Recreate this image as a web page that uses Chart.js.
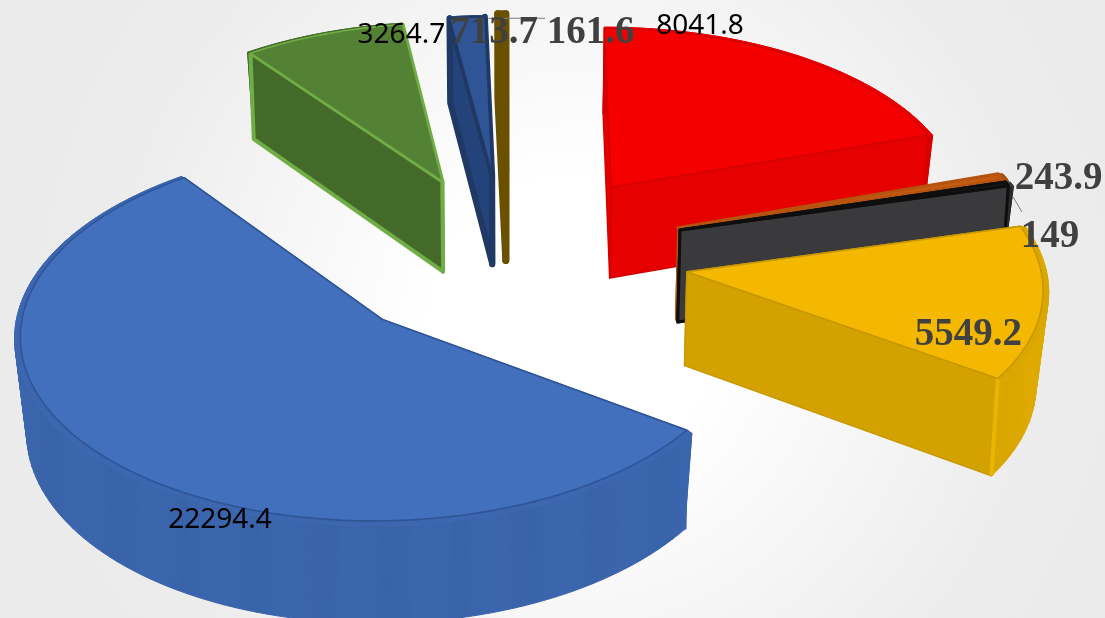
<!DOCTYPE html>
<html>
<head>
<meta charset="utf-8">
<style>
	html, body { margin: 0; padding: 0; }
	body { width: 1105px; height: 618px; overflow: hidden; background: radial-gradient(circle at 52% 52%, #ffffff 0%, #ffffff 22%, #ececec 72%, #eaeaea 100%); }
	#chart-box { width: 1105px; height: 618px; position: relative; }
</style>
<script src="https://cdn.jsdelivr.net/npm/chart.js@4/dist/chart.umd.min.js"></script>
</head>
<body>
<div id="chart-box"><canvas id="pie-chart"></canvas></div>
<script>
const sliceValues = [8041.8, 243.9, 149, 5549.2, 22294.4, 3264.7, 713.7, 161.6];
const sliceLabels = ['8041.8', '243.9', '149', '5549.2', '22294.4', '3264.7', '713.7', '161.6'];
const explodePx = [96, 104, 106, 110, 98, 92, 94, 98];
const sideNudge = [10, 0, -3, -10, 0, -3, 0, 3];

const topColors = ['#f50000', '#c55a11', '#1c1c1c', '#f4b800', '#4270bd', '#548235', '#2f5597', '#7f6000'];
const wallColors = ['#e60000', '#a84c0e', '#3a3a3c', '#d4a200', '#3a64ab', '#446a29', '#23437a', '#6b5000'];
const arcWallColors = ['#d80000', '#a84c0e', '#2a2a2a', '#dca800', '#3a64ab', '#446a29', '#23437a', '#6b5000'];
const edgeColors = ['#d40000', '#b5530f', '#0e0e0e', '#c89800', '#2f5597', '#70ad47', '#1f3864', '#6b5000'];
const wallEdgeWidths = [1.5, 1.5, 3, 1.5, 1.5, 4, 6, 7];
const topEdgeWidths = [1.6, 3, 3, 1.6, 1.6, 1.6, 1.6, 7];
const cornerGlow = [0, 0, 0, 0.07, 0.015, 0, 0, 0];

const sansFont = '28px "Noto Sans", sans-serif', serifFont = 'bold 39px "Liberation Serif", serif';
const labelFonts = [sansFont, serifFont, serifFont, serifFont, sansFont, sansFont, serifFont, serifFont];
const labelColors = ['#000000', '#404040', '#404040', '#404040', '#000000', '#000000', '#404040', '#404040'];
const labelNudge = [[-96, -31], [58, 2], [43, 53], [-74, 32], [107, 58], [78, 1], [27, 16], [89, 19]];
const leaderLines = [[2, 6, 13, 15, 28], [6, 21, 1, 78, 1]];

// camera for the tilted pie
const view = { cx: 505, cy: 255, a: 352, b: 178.4, k: 0.068, depth: 93, taper: 0.013 };

function project(u, v, z) {
	const w = 1 / (1 - view.k * v);
	return {
		x: view.cx + view.a * u * w * (1 - view.taper * z),
		y: view.cy + view.b * v * w + view.depth * z * w
	};
}

function shade(hex, amt) {
	const n = parseInt(hex.slice(1), 16);
	const ch = s => Math.max(0, Math.min(255, Math.round(((n >> s) & 255) * (1 + amt))));
	return 'rgb(' + ch(16) + ',' + ch(8) + ',' + ch(0) + ')';
}

function fillPoly(ctx, pts, fill, stroke, lw) {
	ctx.beginPath();
	pts.forEach((p, i) => i ? ctx.lineTo(p.x, p.y) : ctx.moveTo(p.x, p.y));
	ctx.closePath();
	ctx.fillStyle = fill;
	ctx.fill();
	ctx.strokeStyle = stroke || fill;
	ctx.lineWidth = lw || 1;
	ctx.lineJoin = 'round';
	ctx.stroke();
}

function sliceGeometry(arc, index) {
	const p = arc.getProps(['startAngle', 'endAngle', 'outerRadius']);
	const mid = (p.startAngle + p.endAngle) / 2;
	const off = arc.options.offset / p.outerRadius;
	return {
		index, start: p.startAngle, end: p.endAngle, mid,
		ou: off * Math.cos(mid) + sideNudge[index] / view.a,
		ov: off * Math.sin(mid)
	};
}

function drawWalls(ctx, g, width) {
	const i = g.index;
	const rim = 1.016;
	const at = (ang, r, z) => project(g.ou + r * Math.cos(ang), g.ov + r * Math.sin(ang), z);
	const apex = z => project(g.ou, g.ov, z);

	const radialWall = ang => fillPoly(ctx,
		[apex(0), at(ang, 1, 0), at(ang, 1, 1), apex(1)],
		wallColors[i], edgeColors[i], wallEdgeWidths[i]);

	// a cut face points at the camera when its outward normal has a positive v
	const startFaces = -Math.cos(g.start) > 0, endFaces = Math.cos(g.end) > 0;
	if (!startFaces) radialWall(g.start);
	if (!endFaces) radialWall(g.end);

	// faint facets come from one shared gradient
	const grad = ctx.createLinearGradient(0, 0, width, 0);
	for (let s = 0; s <= 60; s++)
		grad.addColorStop(s / 60, shade(arcWallColors[i], 0.014 * Math.sin(s * 1.7)));

	const steps = Math.max(2, Math.ceil((g.end - g.start) / 0.03));
	const quads = [];
	for (let s = 0; s < steps; s++) {
		const a0 = g.start + (g.end - g.start) * s / steps;
		const a1 = g.start + (g.end - g.start) * (s + 1) / steps;
		quads.push({ v: Math.sin((a0 + a1) / 2), pts: [at(a0, rim, 0.012), at(a1, rim, 0.012), at(a1, 1, 1), at(a0, 1, 1)] });
	}
	quads.sort((a, b) => a.v - b.v);
	quads.forEach(q => fillPoly(ctx, q.pts, grad, grad, 1));
	[g.start, g.end].forEach(ang => fillPoly(ctx, [at(ang, 1, 0), at(ang, rim, 0.012), at(ang, 1, 1)], grad, grad, 1));

	if (startFaces) radialWall(g.start);
	if (endFaces) radialWall(g.end);

	if (cornerGlow[i] > 0) {
		const corner = Math.sin(g.start) > Math.sin(g.end) ? g.start : g.end;
		const p0 = at(corner, 1, 0), p1 = at(corner, 1, 1);
		ctx.beginPath();
		ctx.moveTo(p0.x, p0.y);
		ctx.lineTo(p1.x, p1.y);
		ctx.strokeStyle = shade(arcWallColors[i], cornerGlow[i]);
		ctx.lineWidth = 4;
		ctx.stroke();
	}
}

function drawTop(ctx, g, fill) {
	const i = g.index;
	const steps = Math.max(2, Math.ceil((g.end - g.start) / 0.02));
	const outer = [], rim = [];
	for (let s = 0; s <= steps; s++) {
		const a = g.start + (g.end - g.start) * s / steps;
		outer.push(project(g.ou + Math.cos(a), g.ov + Math.sin(a), 0));
		rim.push(project(g.ou + 1.016 * Math.cos(a), g.ov + 1.016 * Math.sin(a), 0.012));
	}
	// bevel band between the top face and the outer wall
	fillPoly(ctx, rim.concat(outer.slice().reverse()), shade(wallColors[i], 0.03), shade(wallColors[i], 0.03));
	fillPoly(ctx, [project(g.ou, g.ov, 0)].concat(outer), fill, edgeColors[i], topEdgeWidths[i]);
}

const pie3d = {
	id: 'pie3d',
	beforeDatasetsDraw(chart) {
		const { ctx } = chart;
		const meta = chart.getDatasetMeta(0);
		const slices = meta.data.map((arc, i) => sliceGeometry(arc, i));
		const order = slices.slice().sort((a, b) => a.ov - b.ov);

		ctx.save();
		order.forEach(g => {
			drawWalls(ctx, g, chart.width);
			drawTop(ctx, g, meta.data[g.index].options.backgroundColor);
		});

		// value labels sit on top of everything, like the original
		const anchors = slices.map(g => project(g.ou + Math.cos(g.mid), g.ov + Math.sin(g.mid), 0));
		ctx.strokeStyle = '#7f7f7f';
		ctx.lineWidth = 1;
		leaderLines.forEach(l => {
			const p = anchors[l[0]];
			ctx.beginPath();
			ctx.moveTo(p.x + l[1], p.y + l[2]);
			ctx.lineTo(p.x + l[3], p.y + l[4]);
			ctx.stroke();
		});
		ctx.textAlign = 'center';
		ctx.textBaseline = 'middle';
		slices.forEach(g => {
			const p = anchors[g.index];
			ctx.font = labelFonts[g.index];
			ctx.fillStyle = labelColors[g.index];
			ctx.fillText(sliceLabels[g.index], p.x + labelNudge[g.index][0], p.y + labelNudge[g.index][1]);
		});
		ctx.restore();
		return false;
	}
};

new Chart(document.getElementById('pie-chart'), {
	type: 'pie',
	data: {
		labels: sliceLabels,
		datasets: [{
			data: sliceValues,
			backgroundColor: topColors,
			borderWidth: 0,
			offset: explodePx
		}]
	},
	options: {
		responsive: true,
		maintainAspectRatio: false,
		animation: false,
		radius: 200,
		layout: { padding: 0 },
		plugins: {
			legend: { display: false },
			tooltip: { enabled: false }
		}
	},
	plugins: [pie3d]
});
</script>
</body>
</html>
